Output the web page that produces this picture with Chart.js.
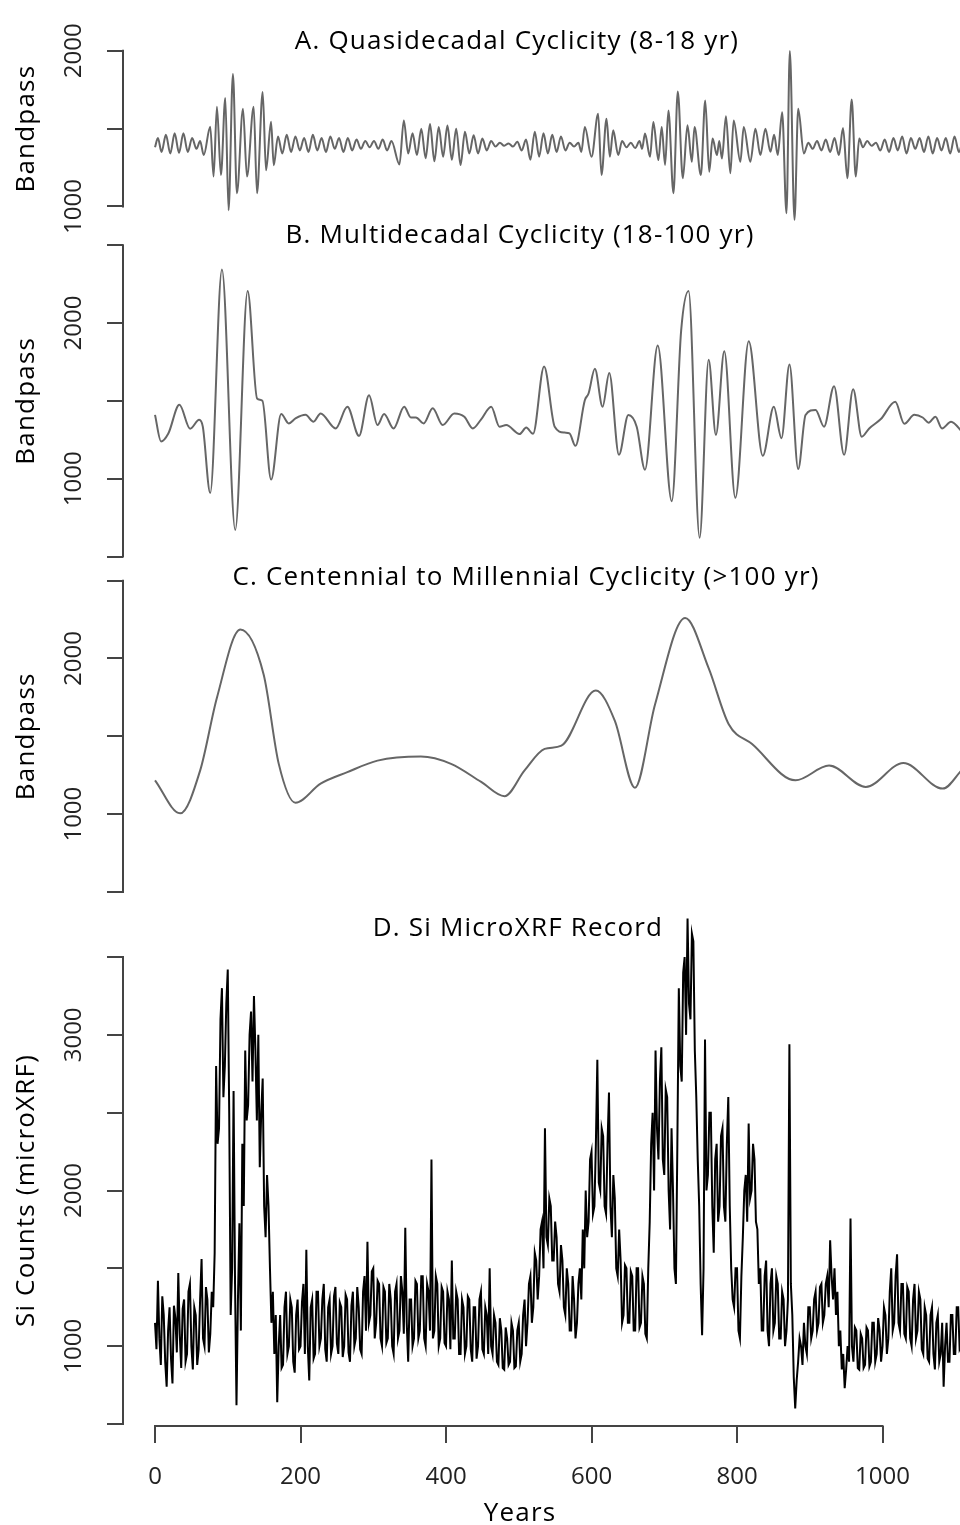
<!DOCTYPE html>
<html>
<head>
<meta charset="utf-8">
<title>Si MicroXRF record and bandpass components</title>
<script src="https://cdn.jsdelivr.net/npm/chart.js@4.4.1/dist/chart.umd.min.js"></script>
<style>
  html, body { margin: 0; padding: 0; background: #fff; }
  #chart { display: block; }
</style>
</head>
<body>
<canvas id="chart" width="960" height="1525"></canvas>
<script>
// A. Quasidecadal band (8-18 yr), turning points of the filtered series
var quasiYears = [0, 4, 9, 15, 21, 27, 33, 39, 45, 51, 57, 62, 67, 75.9, 80.5, 85.1, 90.6, 96.6, 101.1, 107.1,
    112.6, 120.9, 126.4, 135.6, 140.2, 148, 152.6, 159.5, 163.2, 169, 175, 181, 187, 193, 199, 205, 211, 217,
    223, 229, 235, 241, 247, 253, 259, 265, 271, 277, 283, 289, 295, 301, 307, 313, 319, 325, 336, 342, 348,
    354, 360, 366, 372, 378, 384, 390, 396, 402, 408, 414, 420, 426, 432, 438, 444, 450, 456, 462, 468, 474,
    480, 486, 492, 498, 504, 510, 516, 522, 528, 534, 540, 546, 552, 558, 564, 570, 576, 582, 586, 590.8, 600,
    609.1, 613.7, 620.6, 625.2, 629.8, 636.7, 642, 648, 654, 660, 666, 669.5, 673.5, 680.4, 685, 691.9, 696.5,
    701.1, 705.7, 712.6, 718.6, 725.5, 731.9, 737.9, 741.6, 750.3, 756.3, 761.8, 766.4, 772.4, 775.6, 779.3,
    784.8, 790.8, 795.4, 804.6, 809.2, 818.3, 825.3, 832.1, 839, 845.9, 851, 856, 862, 868, 872.6, 879, 884.1,
    891.9, 898, 904, 910, 916, 922, 928, 934, 940, 945.7, 951.7, 957.6, 963.2, 968, 973, 979, 985, 991, 997,
    1003, 1009, 1015, 1021, 1027, 1033, 1039, 1045, 1051, 1057, 1063, 1069, 1075, 1081, 1087, 1093, 1099,
    1105, 1110];
var quasiValues = [1380, 1440, 1350, 1460, 1340, 1470, 1345, 1470, 1350, 1440, 1370, 1420, 1330, 1512, 1193,
    1640, 1202, 1697, 976, 1851, 1085, 1627, 1193, 1640, 1085, 1736, 1232, 1544, 1264, 1450, 1340, 1460, 1350,
    1450, 1360, 1440, 1350, 1460, 1360, 1440, 1350, 1450, 1370, 1440, 1350, 1440, 1360, 1430, 1370, 1420, 1380,
    1420, 1370, 1430, 1360, 1420, 1270, 1553, 1340, 1470, 1330, 1500, 1310, 1530, 1290, 1510, 1320, 1520, 1300,
    1500, 1266, 1480, 1340, 1457, 1340, 1436, 1360, 1420, 1385, 1410, 1390, 1405, 1385, 1415, 1360, 1430, 1300,
    1480, 1320, 1470, 1340, 1460, 1350, 1450, 1360, 1410, 1385, 1410, 1350, 1510, 1319, 1595, 1202, 1563, 1319,
    1489, 1330, 1420, 1380, 1410, 1375, 1420, 1370, 1468, 1319, 1542, 1298, 1510, 1266, 1617, 1085, 1738, 1181,
    1521, 1287, 1510, 1202, 1680, 1223, 1436, 1330, 1420, 1308, 1580, 1213, 1553, 1287, 1510, 1287, 1500, 1330,
    1500, 1351, 1460, 1330, 1606, 957, 1999, 914, 1627, 1340, 1410, 1370, 1420, 1360, 1430, 1350, 1440, 1330,
    1504, 1181, 1687, 1192, 1436, 1380, 1420, 1390, 1410, 1360, 1430, 1350, 1440, 1360, 1450, 1340, 1440, 1370,
    1440, 1350, 1450, 1340, 1440, 1360, 1440, 1340, 1450, 1350, 1420];

// B. Multidecadal band (18-100 yr)
var multiYears = [0, 8.3, 18.3, 33.5, 48.3, 60.7, 65.7, 75.9, 92, 110.3, 127.3, 140.3, 147.6, 159.6, 173.4,
    183.9, 193.1, 206.9, 217.9, 227.6, 248.3, 264.4, 280.4, 294.2, 305.8, 314.9, 327.9, 342.5, 351.7, 358.6,
    369.2, 381.7, 395.4, 411.4, 425.2, 436.8, 448.3, 462.1, 473.5, 482.8, 501.1, 510.3, 519.6, 534.8, 549.4,
    563.2, 569.7, 577.9, 590.8, 595.9, 604.6, 615.2, 624.4, 637.7, 650.6, 662.1, 673.5, 691, 710.3, 723.2,
    733.4, 748.6, 761, 771, 782.5, 797.7, 816.1, 835.4, 850.6, 861.1, 872.1, 884.1, 894.2, 908, 919.6,
    933.4, 947.2, 959.6, 971.4, 981.7, 997.7, 1017.5, 1029.9, 1043.7, 1055.2, 1063.4, 1072.7, 1081.8, 1094.2, 1110.3];
var multiValues = [1410, 1239, 1290, 1475, 1321, 1378, 1334, 908, 2344, 671, 2206, 1515, 1500, 994, 1415,
    1355, 1387, 1410, 1366, 1419, 1323, 1462, 1275, 1536, 1345, 1415, 1323, 1462, 1393, 1393,
    1355, 1452, 1345, 1419, 1398, 1323, 1381, 1462, 1334, 1345, 1287, 1328, 1288, 1721, 1334,
    1296, 1291, 1211, 1504, 1547, 1706, 1462, 1679, 1153, 1409, 1334, 1058, 1855, 855, 1951,
    2206, 621, 1764, 1281, 1819, 877, 1883, 1147, 1462, 1260, 1734, 1062, 1409, 1442, 1334,
    1594, 1153, 1575, 1270, 1323, 1383, 1494, 1353, 1410, 1393, 1360, 1398, 1323, 1366, 1296];

// C. Centennial to millennial band (>100 yr)
var centYears = [0, 34.5, 62.1, 85.1, 117.2, 149.4, 170.1, 193.1, 227.6, 264.4, 305.8, 365.5, 406.9, 448.3,
    480.4, 508, 535.6, 558.6, 605.9, 632.1, 659.7, 687.3, 728.7, 761, 788.6, 820.7, 880.4, 926.5, 977,
    1028.6, 1082.8, 1110.3];
var centValues = [1217, 1005, 1281, 1748, 2186, 1896, 1323, 1073, 1196, 1270, 1344, 1370, 1323, 1207,
    1115, 1281, 1419, 1440, 1794, 1599, 1170, 1705, 2260, 1938, 1578, 1450, 1217, 1312, 1175,
    1328, 1164, 1291];

// D. Si counts (microXRF), one reading every 2 years from year 0 (20 readings per row)
var siStep = 2;
var siCounts = [
    1150, 980, 1420, 1050, 880, 1320, 1200, 900, 740, 1100, 1250, 920, 760, 1260, 1180, 960, 1470, 1080, 860, 1240,
    1300, 900, 950, 1350, 1400, 1000, 850, 1250, 1200, 880, 980, 1300, 1560, 1050, 1000, 1380, 1300, 960, 1080, 1350,
    1250, 1600, 2800, 2300, 2400, 3100, 3300, 2600, 2800, 3200, 3420, 2500, 1200, 1500, 2640, 1400, 620, 1300, 1790, 1100,
    2300, 1900, 2900, 2450, 2550, 3000, 3150, 2700, 3250, 2900, 2450, 3000, 2150, 2500, 2720, 1900, 1700, 2100, 1900, 1500,
    1150, 1350, 950, 1200, 640, 1000, 1200, 860, 880, 1250, 1350, 950, 1000, 1300, 1250, 900, 830, 1200, 1300, 980,
    1000, 1280, 1400, 950, 1620, 1000, 780, 1250, 1300, 920, 950, 1350, 1350, 1000, 1050, 1300, 1400, 980, 900, 1250,
    1300, 950, 1000, 1320, 1380, 1020, 950, 1280, 1250, 930, 1000, 1330, 1300, 960, 900, 1260, 1350, 1000, 1050, 1380,
    1250, 980, 950, 1350, 1450, 1100, 1670, 1150, 1200, 1480, 1500, 1050, 1150, 1420, 1400, 1050, 1000, 1380, 1350, 1020,
    1050, 1400, 1300, 1000, 950, 1350, 1400, 1050, 1100, 1450, 1350, 1080, 1760, 1150, 900, 1300, 1300, 1000, 1050, 1420,
    1400, 1050, 1100, 1450, 1450, 1050, 1000, 1400, 1350, 1100, 2200, 1050, 1100, 1450, 1400, 1000, 1050, 1380, 1350, 1020,
    1000, 1350, 1300, 980, 1550, 1050, 1050, 1350, 1300, 950, 950, 1300, 1250, 950, 1000, 1320, 1300, 980, 900, 1250,
    1250, 920, 1000, 1300, 1350, 980, 950, 1250, 1200, 950, 1500, 1000, 950, 1200, 1150, 900, 880, 1180, 1100, 860,
    850, 1120, 1050, 880, 900, 1150, 1100, 860, 870, 1100, 1150, 900, 950, 1200, 1300, 1000, 1150, 1400, 1450, 1150,
    1250, 1600, 1550, 1300, 1450, 1750, 1800, 1500, 2400, 1700, 1650, 1950, 1900, 1550, 1550, 1800, 1700, 1400, 1350, 1650,
    1550, 1250, 1200, 1500, 1400, 1100, 1100, 1450, 1300, 1050, 1150, 1400, 1500, 1300, 1750, 1500, 2000, 1700, 1800, 2200,
    2250, 1850, 1900, 2300, 2840, 2050, 2000, 2400, 2350, 1900, 1850, 2300, 2630, 1900, 1700, 2100, 1950, 1500, 1450, 1750,
    1550, 1150, 1200, 1520, 1500, 1150, 1150, 1480, 1450, 1100, 1100, 1500, 1500, 1120, 1150, 1450, 1400, 1080, 1050, 1500,
    1800, 2300, 2500, 2000, 2900, 2400, 2200, 2700, 2920, 2200, 2100, 2650, 2600, 2000, 1750, 2400, 2000, 1500, 1400, 2300,
    3300, 2800, 2700, 3400, 3500, 3000, 3750, 3200, 3100, 3650, 3600, 2900, 2600, 2200, 1900, 1400, 1070, 1500, 2970, 2000,
    2100, 2500, 2500, 1900, 1600, 2200, 2300, 1800, 1900, 2350, 2400, 1900, 1800, 2300, 2600, 1900, 1500, 1300, 1250, 1500,
    1500, 1100, 1050, 1450, 1700, 2000, 2100, 1800, 2430, 1950, 2000, 2300, 2200, 1800, 1750, 1400, 1500, 1100, 1100, 1450,
    1550, 1100, 1000, 1400, 1500, 1100, 1150, 1450, 1400, 1050, 1050, 1350, 1300, 1000, 1100, 1300, 2940, 1400, 1200, 800,
    600, 780, 900, 1050, 1000, 880, 1150, 1000, 950, 1250, 1250, 1050, 1100, 1300, 1350, 1100, 1150, 1380, 1400, 1150,
    1200, 1400, 1450, 1250, 1680, 1450, 1300, 1500, 1200, 1350, 1000, 1100, 850, 950, 730, 850, 1000, 900, 1820, 1000,
    900, 1120, 1100, 860, 850, 1080, 1050, 860, 880, 1120, 1100, 870, 900, 1150, 1150, 900, 950, 1180, 1100, 900,
    1000, 1250, 1200, 950, 1050, 1350, 1500, 1100, 1150, 1450, 1590, 1150, 1100, 1400, 1400, 1080, 1050, 1380, 1350, 1050,
    1000, 1300, 1400, 1050, 1100, 1350, 1300, 980, 950, 1250, 1200, 920, 900, 1200, 1250, 950, 850, 1150, 1200, 900,
    950, 1150, 740, 1000, 1150, 900, 900, 1200, 1200, 950, 950, 1250, 1250, 980, 1000, 1220];

var yearTicks = [0, 200, 400, 600, 800, 1000];
var quasiTicks = [1000, 1500, 2000];
var bandTicks = [500, 1000, 1500, 2000, 2500];
var siTicks = [500, 1000, 1500, 2000, 2500, 3000, 3500];
var labelledTicks = [1000, 2000, 3000];

var axisColor = '#444';
var traceGrey = '#666';
var textFont = 'Open Sans';

var panelTitles = [
    { text: 'A. Quasidecadal Cyclicity (8-18 yr)', x: 517, y: 49 },
    { text: 'B. Multidecadal Cyclicity (18-100 yr)', x: 520, y: 243 },
    { text: 'C. Centennial to Millennial Cyclicity (>100 yr)', x: 526, y: 585 },
    { text: 'D. Si MicroXRF Record', x: 518, y: 936 }
];
var axisTitles = { yA: 'Bandpass', yB: 'Bandpass', yC: 'Bandpass', yD: 'Si Counts (microXRF)' };

function pairs(xs, ys) {
    return xs.map(function (x, i) { return { x: x, y: ys[i] }; });
}

function yScale(min, max, ticks, weight, stackWeight) {
    return {
        type: 'linear',
        position: 'left',
        stack: 'panels',
        stackWeight: stackWeight,
        weight: weight,
        min: min,
        max: max,
        afterBuildTicks: function (s) { s.ticks = ticks.map(function (v) { return { value: v }; }); },
        afterFit: function (s) { s.width = 123; },
        border: { display: false },
        grid: { drawOnChartArea: false, drawTicks: true, tickLength: 16, color: axisColor, lineWidth: 2 },
        ticks: {
            autoSkip: false,
            minRotation: 90,
            maxRotation: 90,
            crossAlign: 'center',
            padding: 5,
            color: '#222',
            font: { family: textFont, size: 24 },
            callback: function (v) { return labelledTicks.indexOf(v) >= 0 ? String(v) : ''; }
        }
    };
}

// R-style axes: lines only between the first and last tick, plus the titles
var rAxes = {
    id: 'rAxes',
    afterDraw: function (chart) {
        var ctx = chart.ctx;
        ctx.save();
        ctx.strokeStyle = axisColor;
        ctx.lineWidth = 2;
        ctx.lineCap = 'square';
        Object.keys(axisTitles).forEach(function (id) {
            var s = chart.scales[id];
            var top = s.getPixelForValue(s.ticks[s.ticks.length - 1].value);
            var bottom = s.getPixelForValue(s.ticks[0].value);
            ctx.beginPath();
            ctx.moveTo(s.right, top);
            ctx.lineTo(s.right, bottom);
            ctx.stroke();
        });
        var x = chart.scales.x;
        ctx.beginPath();
        ctx.moveTo(x.getPixelForValue(yearTicks[0]), x.top);
        ctx.lineTo(x.getPixelForValue(yearTicks[yearTicks.length - 1]), x.top);
        ctx.stroke();

        ctx.fillStyle = '#000';
        ctx.font = '500 26px "' + textFont + '"';
        ctx.letterSpacing = '1.2px';
        ctx.textAlign = 'center';
        ctx.textBaseline = 'alphabetic';
        panelTitles.forEach(function (t) { ctx.fillText(t.text, t.x, t.y); });
        ctx.fillText('Years', 520, 1521);

        Object.keys(axisTitles).forEach(function (id) {
            var s = chart.scales[id];
            var mid = (s.getPixelForValue(s.ticks[0].value) + s.getPixelForValue(s.ticks[s.ticks.length - 1].value)) / 2;
            ctx.save();
            ctx.translate(34, mid);
            ctx.rotate(-Math.PI / 2);
            ctx.fillText(axisTitles[id], 0, 0);
            ctx.restore();
        });
        ctx.restore();
    }
};

var lineStyle = { borderColor: traceGrey, borderWidth: 2, pointRadius: 0, fill: false, cubicInterpolationMode: 'monotone' };

var config = {
    type: 'line',
    data: {
        datasets: [
            Object.assign({ data: pairs(quasiYears, quasiValues), yAxisID: 'yA' }, lineStyle),
            Object.assign({ data: pairs(multiYears, multiValues), yAxisID: 'yB' }, lineStyle),
            Object.assign({ data: pairs(centYears, centValues), yAxisID: 'yC' }, lineStyle),
            {
                data: siCounts.map(function (v, i) { return { x: i * siStep, y: v }; }),
                yAxisID: 'yD',
                borderColor: '#000',
                borderWidth: 2,
                pointRadius: 0,
                fill: false,
                tension: 0
            }
        ]
    },
    options: {
        responsive: false,
        animation: false,
        devicePixelRatio: 1,
        events: [],
        layout: { padding: { top: 10, left: 0, right: 0, bottom: 0 } },
        plugins: { legend: { display: false }, tooltip: { enabled: false }, title: { display: false } },
        scales: {
            x: {
                type: 'linear',
                position: 'bottom',
                min: -44,
                max: 1106.5,
                afterBuildTicks: function (s) { s.ticks = yearTicks.map(function (v) { return { value: v }; }); },
                afterFit: function (s) { s.height = 99; },
                border: { display: false },
                grid: { drawOnChartArea: false, drawTicks: true, tickLength: 17, color: axisColor, lineWidth: 2 },
                ticks: {
                    autoSkip: false,
                    maxRotation: 0,
                    padding: 20,
                    color: '#222',
                    font: { family: textFont, size: 24 },
                    callback: function (v) { return String(v); }
                }
            },
            yD: yScale(487.2, 3748.2, siTicks, 1, 511),
            yC: yScale(330.3, 2583, bandTicks, 2, 353),
            yB: yScale(427.9, 2597.6, bandTicks, 3, 340),
            yA: yScale(848.8, 2201.7, quasiTicks, 4, 212)
        }
    },
    plugins: [rAxes]
};

var ctx = document.getElementById('chart').getContext('2d');
var siChart = new Chart(ctx, config);
</script>
</body>
</html>
